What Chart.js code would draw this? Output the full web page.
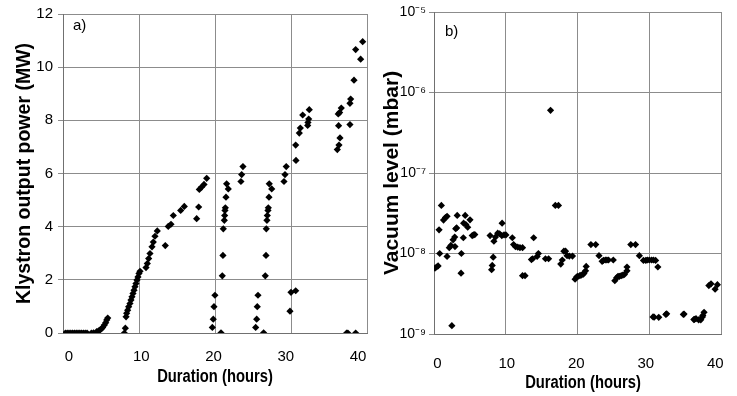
<!DOCTYPE html>
<html>
<head>
<meta charset="utf-8">
<script src="https://cdn.jsdelivr.net/npm/chart.js@4/dist/chart.umd.min.js"></script>
<style>
  body { margin: 0; background: #fff; }
  #wrap { position: relative; width: 737px; height: 396px; overflow: hidden; }
  .pane { position: absolute; top: 0; height: 396px; }
  .tag { position: absolute; font: 15px 'Liberation Sans', Arial, sans-serif; color: #000; }
  .xtitle {
    position: absolute; width: 220px; height: 22px; line-height: 22px; text-align: center;
    font: bold 18px 'Liberation Sans', Arial, sans-serif; color: #000;
    transform: scaleX(0.82); transform-origin: 50% 50%;
  }
</style>
</head>
<body>
<div id="wrap">
  <div class="pane" style="left:0;width:380px"><canvas id="powerChart"></canvas></div>
  <div class="pane" style="left:380px;width:357px"><canvas id="vacuumChart"></canvas></div>
  <div class="tag" style="left:73px;top:16px">a)</div>
  <div class="tag" style="left:445px;top:22px">b)</div>
  <div class="xtitle" style="left:105px;top:366px">Duration (hours)</div>
  <div class="xtitle" style="left:473px;top:372px">Duration (hours)</div>
</div>
<script>
// a) Klystron output power (MW) vs duration (hours)
const powerHours = [
  -0.5, -0.25, 0, 0.25, 0.5, 0.75, 1.0, 1.25, 1.5, 1.75, 2.0, 2.25, 2.5, 3.1, 3.4,
  3.83, 4.1, 4.29, 4.5, 4.66, 4.89, 5.08, 5.22, 5.36,
  7.66, 7.8, 7.9, 7.98, 8.12, 8.26, 8.44, 8.58, 8.72, 8.86, 9.0, 9.13, 9.27, 9.41, 9.55, 9.69, 9.83,
  10.66, 10.84, 11.03, 11.21, 11.49, 11.67, 11.9, 12.22, 13.33, 13.74, 14.12, 14.44, 15.46, 15.96,
  17.67, 17.95, 18.04, 18.36, 18.69, 19.06,
  19.84, 19.97, 20.07, 20.2,
  21.04, 21.22, 21.31, 21.36, 21.5, 21.55, 21.59, 21.64, 21.73, 21.82, 22.05,
  23.8, 23.9, 24.08,
  25.84, 25.98, 26.06, 26.16,
  26.94, 27.17, 27.27, 27.31, 27.4, 27.45, 27.54, 27.59, 27.68, 27.72, 28.06,
  29.76, 29.9, 30.07,
  30.59, 30.73, 31.38,
  31.42, 31.38, 31.88, 32.02, 32.35, 33.04, 33.08, 33.18, 33.26,
  37.14, 37.37, 37.51, 37.32, 37.27, 37.46, 37.69, 38.89, 38.89, 38.99, 39.45, 39.68, 40.37, 40.65,
  38.43, 38.6, 39.68
];
const powerMW = [
  0, 0, 0, 0, 0, 0, 0, 0, 0, 0, 0, 0, 0, 0, 0.01,
  0.05, 0.08, 0.11, 0.16, 0.21, 0.3, 0.39, 0.49, 0.56,
  0, 0.18, 0.61, 0.74, 0.86, 0.99, 1.11, 1.24, 1.36, 1.49, 1.61, 1.74, 1.86, 1.99, 2.11, 2.24, 2.32,
  2.46, 2.61, 2.8, 2.99, 3.24, 3.42, 3.64, 3.84, 3.29, 4.01, 4.09, 4.42, 4.61, 4.76,
  4.3, 4.74, 5.4, 5.49, 5.59, 5.82,
  0.21, 0.52, 0.99, 1.42,
  0.01, 2.15, 2.92, 3.92, 4.24, 4.42, 4.61, 4.71, 5.11, 5.61, 5.42,
  5.7, 5.96, 6.26,
  0.21, 0.52, 0.99, 1.42,
  0.01, 2.15, 2.92, 3.92, 4.24, 4.42, 4.61, 4.71, 5.11, 5.61, 5.42,
  5.7, 5.96, 6.26,
  0.82, 1.53, 1.59,
  6.49, 7.07, 7.52, 7.71, 8.2, 7.81, 7.92, 8.05, 8.4,
  6.9, 7.07, 7.34, 7.8, 8.24, 8.29, 8.46, 7.84, 8.64, 8.8, 9.51, 10.66, 10.3, 10.96,
  0, 0, 0
];

// b) Vacuum level (mbar) vs duration (hours)
const vacHours = [
  -0.34, -0.11, 0.11, 0.34, 0.25, 0.58, 0.89, 1.17, 1.4, 1.4, 1.72, 1.95, 2.09, 2.27, 2.5, 2.54, 2.64, 2.86, 2.78,
  3.41, 3.46, 3.74, 3.78, 4.01, 4.1, 4.37, 4.7, 5.02, 5.2, 5.39,
  7.59, 7.81, 7.9, 8.04, 8.14, 8.36, 8.69, 8.96, 9.32, 9.28, 9.6, 9.87,
  10.79, 10.97, 11.24, 11.57, 11.89, 12.26, 12.26, 12.62, 13.54, 13.72, 13.86, 14.36, 14.54, 15.56, 16.01,
  16.29, 16.98, 17.43, 17.76, 17.98, 18.21, 18.45, 18.67, 18.99, 19.45,
  19.82, 20.04, 20.2, 20.5, 20.7, 20.96, 21.1, 21.33, 21.42, 22.1, 22.79, 23.26, 23.71, 23.9, 24.17, 24.4, 24.63, 25.32,
  25.54, 25.8, 26.0, 26.2, 26.46, 26.7, 26.92, 27.29, 27.29, 27.84, 28.52, 29.07, 29.66, 30.0, 30.21, 30.5, 30.82, 31.1, 31.41, 31.73,
  31.04, 31.2, 31.86, 32.88, 33.0, 35.4, 35.5, 36.91, 37.0, 37.22, 37.6, 37.91, 38.14, 38.2, 38.38,
  39.07, 39.38, 39.97, 40.3
];
const vacMbar = [
  6.6e-9, 6.8e-9, 7e-9, 1e-8, 1.97e-8, 3.95e-8, 2.6e-8, 2.8e-8, 2.9e-8, 9.2e-9, 1.18e-8, 1.26e-8, 1.27e-9, 1.48e-8, 1.6e-8, 1.22e-8, 2.03e-8, 2.97e-8, 2.08e-8,
  5.7e-9, 1e-8, 1.57e-8, 2.38e-8, 2.97e-8, 2.29e-8, 2.12e-8, 2.62e-8, 1.67e-8, 1.7e-8, 1.72e-8,
  1.67e-8, 6.3e-9, 7.1e-9, 9e-9, 1.42e-8, 1.6e-8, 1.79e-8, 1.76e-8, 2.38e-8, 1.67e-8, 1.7e-8, 1.7e-8,
  1.57e-8, 1.29e-8, 1.22e-8, 1.2e-8, 1.18e-8, 1.18e-8, 5.3e-9, 5.3e-9, 8.4e-9, 8.6e-9, 1.57e-8, 9.2e-9, 1e-8, 8.6e-9, 8.6e-9,
  6e-7, 3.95e-8, 3.95e-8, 7.4e-9, 8.3e-9, 1.07e-8, 1.07e-8, 9.4e-9, 9.3e-9, 9.3e-9,
  4.8e-9, 5.1e-9, 5.2e-9, 5.3e-9, 5.4e-9, 5.5e-9, 5.7e-9, 6.1e-9, 6.9e-9, 1.29e-8, 1.29e-8, 9.4e-9, 8e-9, 8.2e-9, 8.3e-9, 8.3e-9, 8.3e-9, 8.3e-9,
  4.6e-9, 5e-9, 5.2e-9, 5.2e-9, 5.3e-9, 5.4e-9, 5.5e-9, 6.1e-9, 6.8e-9, 1.29e-8, 1.29e-8, 9.4e-9, 8.2e-9, 8.2e-9, 8.3e-9, 8.3e-9, 8.3e-9, 8.3e-9, 8.2e-9, 6.8e-9,
  1.63e-9, 1.62e-9, 1.61e-9, 1.75e-9, 1.78e-9, 1.75e-9, 1.77e-9, 1.51e-9, 1.52e-9, 1.55e-9, 1.5e-9, 1.5e-9, 1.63e-9, 1.7e-9, 1.86e-9,
  4e-9, 4.2e-9, 3.6e-9, 4.1e-9
];

const durationTicks = [0, 10, 20, 30, 40];
const powerTicks = [0, 2, 4, 6, 8, 10, 12];
const vacuumTicks = [1e-9, 1e-8, 1e-7, 1e-6, 1e-5];

const GRID = '#8c8c8c';
const AXIS = '#707070';
const SANS = "'Liberation Sans', Arial, sans-serif";

const sup = { '-': '\u207B', '0': '\u2070', '1': '\u00B9', '2': '\u00B2', '3': '\u00B3', '4': '\u2074', '5': '\u2075', '6': '\u2076', '7': '\u2077', '8': '\u2078', '9': '\u2079' };
const pow10Label = v => '10' + String(Math.round(Math.log10(v))).split('').map(c => sup[c]).join('');

const toPoints = (xs, ys) => xs.map((x, i) => ({ x: x, y: ys[i] }));

function makeChart(id, opts) {
  return new Chart(document.getElementById(id), {
    type: 'scatter',
    data: {
      datasets: [{
        data: opts.data,
        pointStyle: 'rectRot',
        pointRadius: 3.6,
        backgroundColor: '#000',
        borderColor: '#000',
        borderWidth: 0
      }]
    },
    options: {
      responsive: true,
      maintainAspectRatio: false,
      animation: false,
      layout: { padding: { left: 0, right: opts.padRight, top: opts.padTop, bottom: 0 } },
      plugins: { legend: { display: false }, tooltip: { enabled: false } },
      scales: {
        // labelled duration axis (no grid)
        x: {
          type: 'linear',
          position: 'bottom',
          min: opts.xMin,
          max: opts.xMax,
          afterBuildTicks: s => { s.ticks = durationTicks.map(v => ({ value: v })); },
          afterFit: s => { s.height = opts.xHeight; },
          grid: { display: false },
          border: { color: AXIS },
          ticks: { color: '#000', font: { family: SANS, size: 15 }, padding: opts.xTickPad }
        },
        // vertical grid lines of the original plot
        xg: {
          type: 'linear',
          position: 'top',
          min: 0,
          max: 40,
          afterBuildTicks: s => { s.ticks = durationTicks.map(v => ({ value: v })); },
          afterFit: s => { s.height = 0; },
          grid: { color: GRID, drawTicks: false },
          border: { display: false },
          ticks: { display: false }
        },
        y: opts.y
      }
    }
  });
}

makeChart('powerChart', {
  data: toPoints(powerHours, powerMW),
  padRight: 13, padTop: 13,
  xMin: -0.83, xMax: 41.25, xHeight: 63, xTickPad: 7,
  y: {
    type: 'linear',
    min: 0,
    max: 12,
    afterBuildTicks: s => { s.ticks = powerTicks.map(v => ({ value: v })); },
    afterFit: s => { s.width = 63; },
    grid: { color: GRID, tickLength: 5 },
    border: { color: AXIS },
    ticks: { color: '#000', font: { family: SANS, size: 15 }, padding: 5 },
    title: {
      display: true,
      text: 'Klystron output power (MW)',
      color: '#000',
      font: { family: SANS, size: 19.5, weight: 'bold' },
      padding: { top: 13, bottom: 0 }
    }
  }
});

makeChart('vacuumChart', {
  data: toPoints(vacHours, vacMbar),
  padRight: 2, padTop: 12,
  xMin: -0.48, xMax: 40.89, xHeight: 62, xTickPad: 13,
  y: {
    type: 'logarithmic',
    min: 1e-9,
    max: 1e-5,
    afterBuildTicks: s => { s.ticks = vacuumTicks.map(v => ({ value: v })); },
    afterFit: s => { s.width = 54; },
    grid: { color: GRID, tickLength: 5 },
    border: { color: AXIS },
    ticks: { color: '#000', font: { family: SANS, size: 14 }, padding: 3, callback: v => pow10Label(v) },
    title: {
      display: true,
      text: 'Vacuum level (mbar)',
      color: '#000',
      font: { family: SANS, size: 21, weight: 'bold' },
      padding: { top: 0, bottom: 0 }
    }
  }
});
</script>
</body>
</html>
